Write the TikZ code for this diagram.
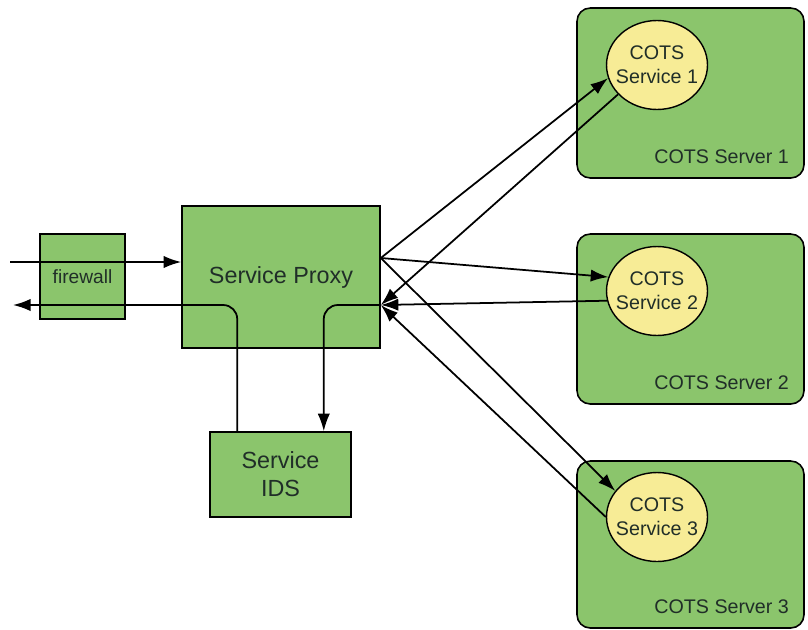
\documentclass[tikz,border=0pt]{standalone}
\usepackage{fontspec}
\setmainfont{Liberation Sans}
\usetikzlibrary{arrows.meta,shapes.geometric,positioning}
\definecolor{boxgreen}{RGB}{139,197,108}
\definecolor{svcyellow}{RGB}{247,236,150}
\definecolor{txtgray}{RGB}{32,46,40}
\tikzset{
  block/.style={draw,line width=0.9pt,fill=boxgreen,text=txtgray,align=center,
    font=\fontsize{13.3}{16}\selectfont},
  server/.style={draw,line width=0.9pt,fill=boxgreen,rounded corners=7.5pt,
    minimum width=4.54cm,minimum height=3.4cm},
  cots/.style={ellipse,draw,line width=0.8pt,fill=svcyellow,text=txtgray,align=center,
    minimum width=2.02cm,minimum height=1.78cm,inner xsep=-5pt,inner ysep=0pt,
    font=\fontsize{11.2}{13.6}\selectfont},
  srvlabel/.style={text=txtgray,inner sep=0pt,font=\fontsize{11.2}{13.6}\selectfont},
  flow/.style={-{Latex[length=10pt,width=7pt]}}
}

\begin{document}
\begin{tikzpicture}[x=0.02cm,y=-0.02cm,line width=1pt]
      \useasboundingbox (0,0) rectangle (808,629);

      \node [block,minimum width=1.7cm,minimum height=1.7cm,font=\fontsize{10.9}{13}\selectfont]
        (firewall) at (82.5,276.5) {firewall};
      \node [block,minimum width=3.96cm,minimum height=2.84cm] (proxy) at (281,277) {Service Proxy};
      \node [block,minimum width=2.82cm,minimum height=1.7cm] (ids) at (280.5,474.5) {Service\\IDS};

      \node [server] (server1) at (690.5,93) {};
      \node [server] (server2) at (690.5,319) {};
      \node [server,minimum height=3.34cm] (server3) at (690.5,544.5) {};

      \node [cots] (svc1) at (657,65) {COTS\\Service 1};
      \node [cots] (svc2) at (657,291) {COTS\\Service 2};
      \node [cots] (svc3) at (657,517) {COTS\\Service 3};

      \node [srvlabel,anchor=base east] (lab1) at ([shift={(-15,-15)}]server1.south east) {COTS Server 1};
      \node [srvlabel,anchor=base east] (lab2) at ([shift={(-15,-15)}]server2.south east) {COTS Server 2};
      \node [srvlabel,anchor=base east] (lab3) at ([shift={(-15,-15)}]server3.south east) {COTS Server 3};

      \coordinate (inL) at (10,262);
      \coordinate (outL) at (13,305);
      \coordinate (pout) at ([shift={(0,-19)}]proxy.east);
      \coordinate (pin) at ([shift={(0,28)}]proxy.east);

      \draw [flow] (inL) -- (inL -| proxy.west);
      \draw [flow,rounded corners=8pt] ([shift={(28,0)}]ids.north west) |- (outL);
      \draw [flow,rounded corners=8pt] (pin) -| ([shift={(-28,0)}]ids.north east);

      \draw [flow] (pout) -- (svc1.195);
      \draw [flow] (pout) -- (svc2.164);
      \draw [flow] (pout) -- (svc3.148);
      \draw [flow] (svc1.217) -- (pin);
      \draw [flow] (svc2.191) -- (pin);
      \draw [flow] (svc3.180) -- (pin);
\end{tikzpicture}
\end{document}
